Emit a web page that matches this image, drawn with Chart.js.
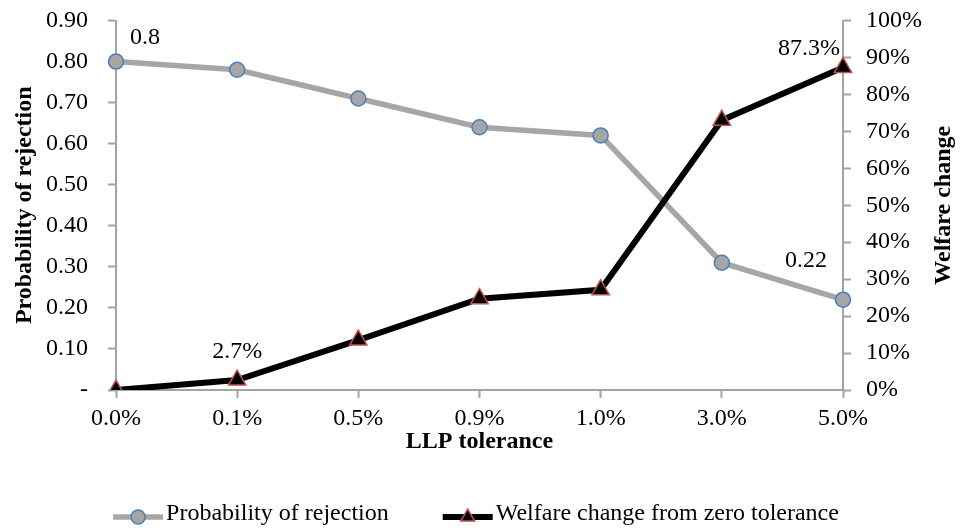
<!DOCTYPE html>
<html>
<head>
<meta charset="utf-8">
<script src="https://cdn.jsdelivr.net/npm/chart.js@4.4.1/dist/chart.umd.min.js"></script>
<style>
  html, body { margin: 0; padding: 0; background: #fff; }
  #wrap { width: 960px; height: 531px; position: relative; }
</style>
</head>
<body>
<div id="wrap"><canvas id="llpChart"></canvas></div>
<script>
// data
const tolerances = ["0.0%", "0.1%", "0.5%", "0.9%", "1.0%", "3.0%", "5.0%"];
const rejectionProb = [0.8, 0.78, 0.71, 0.64, 0.62, 0.31, 0.22];
const welfareChange = [0, 2.7, 13.5, 24.7, 27.1, 73.0, 87.3];   // percent
const rejectionLabelIdx = [0, 6];
const welfareLabelIdx = [1, 6];

const FONT = "'Liberation Serif', 'Times New Roman', serif";
const AXIS_GREY = "#a3a3a3";

// value labels next to some points
const valueLabels = {
  id: "valueLabels",
  afterDatasetsDraw(chart) {
    const ctx = chart.ctx;
    ctx.save();
    ctx.font = "24px " + FONT;
    ctx.fillStyle = "#000";
    ctx.textBaseline = "middle";
    const m0 = chart.getDatasetMeta(0).data;
    const m1 = chart.getDatasetMeta(1).data;
    rejectionLabelIdx.forEach(i => {
      const p = m0[i];
      const txt = String(rejectionProb[i]);
      if (i === 0) { ctx.textAlign = "left"; ctx.fillText(txt, p.x + 14, p.y - 24); }
      else { ctx.textAlign = "right"; ctx.fillText(txt, p.x - 16, p.y - 39); }
    });
    welfareLabelIdx.forEach(i => {
      const p = m1[i];
      const txt = welfareChange[i].toFixed(1) + "%";
      if (i === welfareChange.length - 1) { ctx.textAlign = "right"; ctx.fillText(txt, p.x - 3, p.y - 19); }
      else { ctx.textAlign = "center"; ctx.fillText(txt, p.x, p.y - 28); }
    });
    ctx.restore();
  }
};

function drawMarker(ctx, style, r, x, y) {
  if (style === "triangle") {
    for (let k = 0; k < 3; k++) {
      const a = k * 2 * Math.PI / 3;
      const px = x + Math.sin(a) * r, py = y - Math.cos(a) * r;
      if (k === 0) ctx.moveTo(px, py); else ctx.lineTo(px, py);
    }
    ctx.closePath();
  } else {
    ctx.arc(x, y, r, 0, Math.PI * 2);
  }
}

// right axis title reads bottom-to-top, plus the legend under the chart
const extras = {
  id: "extras",
  afterDraw(chart) {
    const ctx = chart.ctx;
    const area = chart.chartArea;
    ctx.save();
    ctx.font = "bold 24px " + FONT;
    ctx.fillStyle = "#000";
    ctx.textAlign = "center";
    ctx.textBaseline = "middle";
    ctx.translate(944, (area.top + area.bottom) / 2);
    ctx.rotate(-Math.PI / 2);
    ctx.fillText("Welfare change", 0, 0);
    ctx.restore();

    // legend
    ctx.save();
    ctx.font = "24px " + FONT;
    ctx.textBaseline = "middle";
    ctx.textAlign = "left";
    const ly = 514;
    const lineLen = 50, gapText = 3, gapItem = 54;
    const items = chart.data.datasets;
    const widths = items.map(d => ctx.measureText(d.label).width);
    let total = 0;
    widths.forEach((w, k) => { total += lineLen + gapText + w + (k ? gapItem : 0); });
    let x = 476 - total / 2;
    items.forEach((d, k) => {
      ctx.strokeStyle = d.borderColor;
      ctx.lineWidth = d.borderWidth;
      ctx.beginPath();
      ctx.moveTo(x, ly + 3);
      ctx.lineTo(x + lineLen, ly + 3);
      ctx.stroke();
      ctx.fillStyle = d.pointBackgroundColor;
      ctx.strokeStyle = d.pointBorderColor;
      ctx.lineWidth = d.pointBorderWidth;
      ctx.beginPath();
      drawMarker(ctx, d.pointStyle, d.pointStyle === "triangle" ? 8 : 7, x + lineLen / 2, ly + 3);
      ctx.fill();
      ctx.stroke();
      ctx.fillStyle = "#000";
      ctx.fillText(d.label, x + lineLen + gapText, ly);
      x += lineLen + gapText + widths[k] + gapItem;
    });
    ctx.restore();
  }
};

new Chart(document.getElementById("llpChart"), {
  type: "line",
  data: {
    labels: tolerances,
    datasets: [
      {
        label: "Probability of rejection",
        data: rejectionProb,
        yAxisID: "y",
        borderColor: "#a6a6a6",
        borderWidth: 5.5,
        pointStyle: "circle",
        pointRadius: 7.5,
        pointBackgroundColor: "#a6a6a6",
        pointBorderColor: "#4a7ebb",
        pointBorderWidth: 1.5,
        tension: 0,
        order: 1
      },
      {
        label: "Welfare change from zero tolerance",
        data: welfareChange,
        yAxisID: "y1",
        borderColor: "#000000",
        borderWidth: 6,
        pointStyle: "triangle",
        pointRadius: 10,
        pointBackgroundColor: "#000000",
        pointBorderColor: "#c0504d",
        pointBorderWidth: 1.5,
        tension: 0,
        order: 0
      }
    ]
  },
  options: {
    responsive: true,
    maintainAspectRatio: false,
    animation: false,
    layout: { padding: 0 },
    plugins: {
      legend: { display: false },
      tooltip: { enabled: false }
    },
    scales: {
      x: {
        offset: false,
        afterFit: s => { s.height = 141; },
        grid: { drawOnChartArea: false, drawTicks: true, tickLength: 8, tickColor: AXIS_GREY, tickWidth: 2, offset: false },
        border: { color: AXIS_GREY, width: 2 },
        ticks: { color: "#000", padding: 6, maxRotation: 0, font: { family: FONT, size: 24 } },
        title: {
          display: true,
          text: "LLP tolerance",
          color: "#000",
          font: { family: FONT, size: 24, weight: "bold", lineHeight: 1.2 },
          padding: { top: 0, bottom: 75 }
        }
      },
      y: {
        position: "left",
        min: 0,
        max: 0.9,
        afterFit: s => { s.width = 116; s.paddingTop = 20.5; },
        grid: { drawOnChartArea: false, drawTicks: true, tickLength: 8, tickColor: AXIS_GREY, tickWidth: 2 },
        border: { color: AXIS_GREY, width: 2 },
        ticks: {
          stepSize: 0.1,
          color: "#000",
          padding: 20,
          font: { family: FONT, size: 24 },
          callback: v => (Math.abs(v) < 1e-9 ? "-" : Number(v).toFixed(2))
        },
        title: {
          display: true,
          text: "Probability of rejection",
          color: "#000",
          font: { family: FONT, size: 24, weight: "bold", lineHeight: 1.2 },
          padding: { top: 10, bottom: 0 }
        }
      },
      y1: {
        position: "right",
        min: 0,
        max: 100,
        afterFit: s => { s.width = 117; s.paddingTop = 20.5; },
        grid: { drawOnChartArea: false, drawTicks: true, tickLength: 8, tickColor: AXIS_GREY, tickWidth: 2 },
        border: { color: AXIS_GREY, width: 2 },
        ticks: {
          stepSize: 10,
          color: "#000",
          padding: 15,
          font: { family: FONT, size: 24 },
          callback: v => v + "%"
        }
      }
    }
  },
  plugins: [valueLabels, extras]
});
</script>
</body>
</html>
